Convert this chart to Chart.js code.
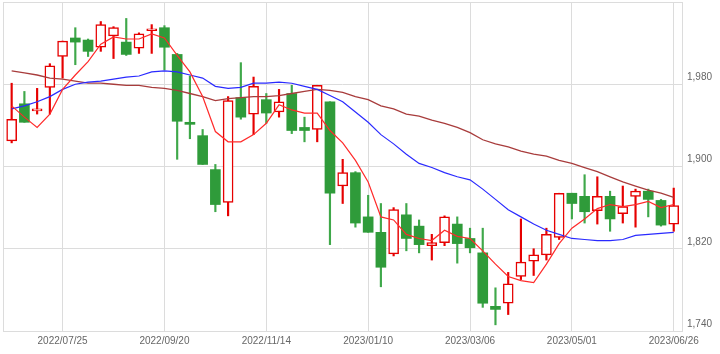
<!DOCTYPE html>
<html>
<head>
<meta charset="utf-8">
<script src="https://cdn.jsdelivr.net/npm/chart.js@4/dist/chart.umd.min.js"></script>
<style>
  html, body { margin: 0; background: #fff; }
  #wrap { width: 720px; height: 354px; }
</style>
</head>
<body>
<div id="wrap"><canvas id="c"></canvas></div>
<script>
// weekly candles, 2022/06/27 .. 2023/06/26 (index 0..52)
const openP  = [1925,1961,1954,1977,2007,2025,2023,2016,2027,2021,2015,2032,2035,2009,1943,1930,1897,1865,1967,1951,
                1965,1953,1971,1938,1936,1963,1881,1894,1851,1836,1815,1853,1842,1823,1826,1844,1830,1816,1764,1767,
                1793,1808,1814,1831,1874,1871,1857,1871,1854,1871,1876,1867,1844];
const highP  = [1981,1973,1976,2000,2022,2035,2024,2041,2036,2044,2030,2038,2037,2010,1988,1936,1902,1968,2001,1987,
                1971,1975,1979,1948,1979,1963,1907,1895,1872,1864,1860,1864,1848,1834,1852,1851,1840,1840,1782,1797,
                1849,1820,1840,1874,1874,1892,1890,1876,1881,1878,1878,1868,1879];
const lowP   = [1923,1943,1951,1951,1986,1999,2007,2012,2005,2008,2010,2010,1994,1907,1927,1902,1856,1852,1946,1931,
                1942,1948,1932,1924,1924,1824,1864,1841,1836,1783,1813,1818,1816,1809,1823,1806,1816,1763,1746,1756,
                1790,1794,1809,1829,1849,1845,1844,1837,1845,1841,1851,1842,1837];
const closeP = [1946,1943,1956,1998,2022,2021,2012,2038,2035,2009,2029,2034,2016,1944,1941,1902,1863,1964,1948,1978,
                1952,1963,1935,1935,1979,1874,1894,1845,1836,1802,1858,1830,1824,1826,1851,1825,1821,1767,1761,1786,
                1807,1814,1834,1874,1864,1856,1871,1849,1861,1876,1868,1843,1862];

// moving averages (short / mid / long)
const maShort = [1959,1948,1938,1951,1975,1989,2002,2019,2026,2024,2024,2029,2025,2008,1992,1968,1934,1924,1924,1931,
                 1942,1960,1955,1952,1952,1935,1923,1906,1885,1851,1848,1834,1830,1828,1838,1832,1830,1818,1805,1793,
                 1789,1787,1805,1825,1840,1849,1859,1863,1861,1863,1866,1860,1863];
const maMid   = [1956,1959,1963,1968,1975,1980,1982,1983,1985,1987,1988,1992,1993,1992,1989,1986,1978,1976,1977,1981,
                 1981,1982,1981,1978,1975,1969,1963,1953,1943,1931,1922,1912,1903,1899,1894,1890,1887,1878,1868,1858,
                 1851,1844,1838,1834,1830,1829,1828,1828,1829,1833,1834,1835,1836];
const maLong  = [1993,1991,1989,1986,1985,1983,1981,1981,1980,1979,1979,1977,1976,1974,1971,1968,1964,1966,1967,1968,
                 1968,1969,1971,1973,1975,1974,1972,1968,1965,1959,1956,1951,1949,1945,1942,1938,1933,1926,1922,1919,
                 1915,1912,1910,1906,1903,1899,1895,1890,1885,1881,1877,1874,1870];

const tickPos    = [4, 12, 20, 28, 36, 44, 52];
const tickLabels = ['2022/07/25','2022/09/20','2022/11/14','2023/01/10','2023/03/06','2023/05/01','2023/06/26'];
const yTicks     = [1740, 1820, 1900, 1980];

const RED = '#e60000', GREEN = '#2f9b3a', GRID = '#dcdcdc', INK = '#666';

const up = openP.map((o, i) => closeP[i] >= o);
const xy = (arr) => arr.map((v, i) => ({ x: i, y: v }));

const frame = {
  id: 'frame',
  beforeDatasetsDraw(chart) {
    const a = chart.chartArea, c = chart.ctx;
    c.save();
    c.strokeStyle = GRID; c.lineWidth = 1;
    c.strokeRect(Math.floor(a.left) + 0.5, Math.floor(a.top) + 0.5, Math.round(a.right - a.left), Math.round(a.bottom - a.top));
    c.restore();
  }
};

// drop the label padding Chart.js reserves at the axis ends
const noPad = (s) => { s.paddingTop = 0; s.paddingBottom = 0; s.paddingLeft = 0; s.paddingRight = 0; };

Chart.defaults.font.family = "'Liberation Sans','Arial',sans-serif";
Chart.defaults.font.size = 10;
Chart.defaults.color = INK;

new Chart(document.getElementById('c'), {
  type: 'bar',
  data: {
    datasets: [
      { type: 'line', label: 'MA short', data: xy(maShort), borderColor: '#ff2a2a', borderWidth: 1.2, pointRadius: 0, tension: 0, order: 0 },
      { type: 'line', label: 'MA mid', data: xy(maMid), borderColor: '#2a2aff', borderWidth: 1.2, pointRadius: 0, tension: 0, order: 0 },
      { type: 'line', label: 'MA long', data: xy(maLong), borderColor: '#a83c3c', borderWidth: 1.3, pointRadius: 0, tension: 0, order: 0 },
      {
        label: 'body', order: 1, grouped: false, barThickness: 10, borderSkipped: false,
        data: openP.map((o, i) => ({ x: i, y: [o, closeP[i]] })),
        backgroundColor: up.map(u => u ? '#fff' : GREEN),
        borderColor: up.map(u => u ? RED : GREEN),
        borderWidth: up.map(u => u ? 1.5 : 0)
      },
      {
        label: 'wick', order: 2, grouped: false, barThickness: 1.5, borderWidth: 0,
        data: lowP.map((l, i) => ({ x: i, y: [l, highP[i]] })),
        backgroundColor: up.map(u => u ? RED : '#3fa84a')
      }
    ]
  },
  options: {
    responsive: true, maintainAspectRatio: false, animation: false,
    layout: { padding: { left: 3, top: 2, right: 0, bottom: 0 } },
    plugins: { legend: { display: false }, tooltip: { enabled: false } },
    scales: {
      x: {
        type: 'linear', min: -0.68, max: 52.65, offset: false,
        afterBuildTicks: (s) => { s.ticks = tickPos.map(v => ({ value: v })); },
        afterFit: (s) => { s.height = 23; noPad(s); },
        ticks: { autoSkip: false, maxRotation: 0, padding: 4, callback: (v) => tickLabels[tickPos.indexOf(v)] },
        grid: { color: GRID, drawTicks: false, offset: false },
        border: { display: false }
      },
      y: {
        position: 'right', min: 1740, max: 2060,
        afterBuildTicks: (s) => { s.ticks = yTicks.map(v => ({ value: v })); },
        afterFit: (s) => { s.width = 38; noPad(s); },
        ticks: { padding: 5, labelOffset: -7, callback: (v) => v.toLocaleString('en-US') },
        grid: { color: GRID, drawTicks: false },
        border: { display: false }
      }
    }
  },
  plugins: [frame]
});
</script>
</body>
</html>
